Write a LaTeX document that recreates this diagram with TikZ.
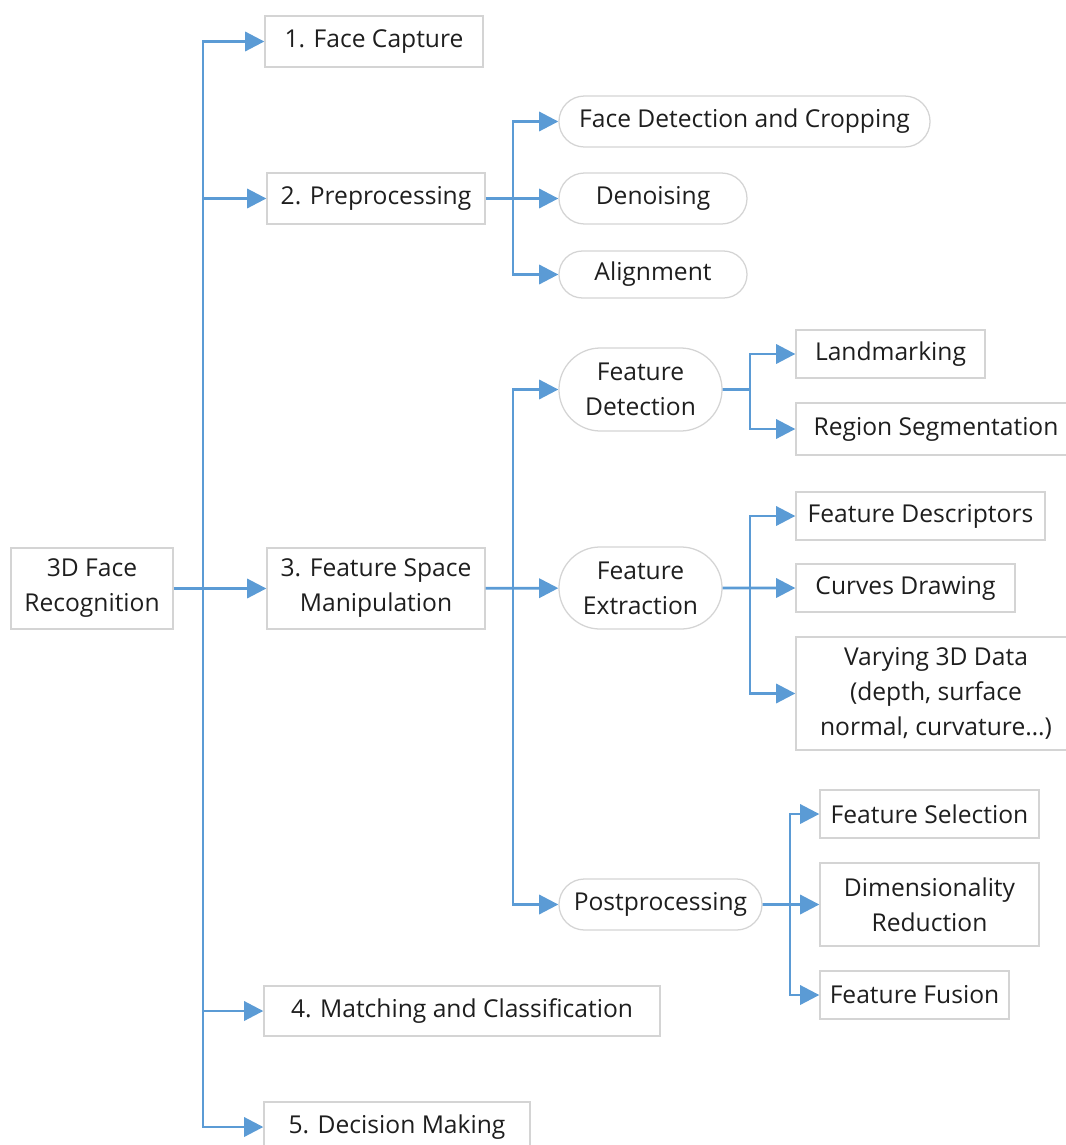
\documentclass[tikz,border=0pt]{standalone}
\usepackage{fontspec}
\setmainfont{Open Sans}
\usepackage{tikz}
\usetikzlibrary{shapes,arrows.meta}

\definecolor{flowblue}{HTML}{5B9BD5}
\definecolor{boxgray}{HTML}{D4D4D4}
\definecolor{textgray}{HTML}{1E1E1E}

\begin{document}
\begin{tikzpicture}
		[
		x = 0.025cm, y = -0.025cm,
		every node/.style = {text = textgray, font = \fontsize{17.5}{24.9}\selectfont, align = center, inner sep = 0pt},
		sqbox/.style = {draw = boxgray, line width = 0.9pt, rectangle, minimum height = 1.275cm},
		rdbox/.style = {draw = boxgray, line width = 0.9pt, rounded rectangle, minimum height = 1.275cm},
		flow/.style = {draw = flowblue, line width = 2pt, -{Triangle[length = 0.48cm, width = 0.48cm]}}
		]
		
		\useasboundingbox (0,0) rectangle (1066,1145);
		
		% level 0 and 1
		\node [sqbox, minimum width = 4.05cm, minimum height = 2.025cm] (root) at (92,588.5) {3D Face\\Recognition};
		\node [sqbox, minimum width = 5.45cm] (capture) at (374,41.5) {1. Face Capture};
		\node [sqbox, minimum width = 5.45cm] (prep) at (376,198.5) {2. Preprocessing};
		\node [sqbox, minimum width = 5.45cm, minimum height = 2.025cm] (fsm) at (376,588.5) {3. Feature Space\\Manipulation};
		\node [sqbox, minimum width = 9.9cm, minimum height = 1.25cm] (match) at (462,1011) {4. Matching and Classification};
		\node [sqbox, minimum width = 6.65cm, minimum height = 1.25cm] (decide) at (397,1127) {5. Decision Making};
		
		% preprocessing
		\node [rdbox, minimum width = 9.275cm] (crop) at (744.5,121.5) {Face Detection and Cropping};
		\node [rdbox, minimum width = 4.7cm] (denoise) at (653,198.5) {Denoising};
		\node [rdbox, minimum width = 4.7cm, minimum height = 1.175cm] (align) at (653,274.5) {Alignment};
		
		% feature space manipulation
		\node [rdbox, minimum width = 4.075cm, minimum height = 2.075cm] (fdetect) at (640.5,389.5) {Feature\\Detection};
		\node [rdbox, minimum width = 4.075cm, minimum height = 2.05cm] (fextract) at (640.5,588) {Feature\\Extraction};
		\node [rdbox, minimum width = 5.075cm] (post) at (660.5,904.5) {Postprocessing};
		
		% detection
		\node [sqbox, minimum width = 4.725cm, minimum height = 1.2cm] (landmark) at (890.5,354) {Landmarking};
		\node [sqbox, minimum width = 7cm, minimum height = 1.3cm] (region) at (936,429) {Region Segmentation};
		
		% extraction
		\node [sqbox, minimum width = 6.225cm, minimum height = 1.2cm] (descr) at (920.5,516) {Feature Descriptors};
		\node [sqbox, minimum width = 5.475cm, minimum height = 1.2cm] (curves) at (905.5,588) {Curves Drawing};
		\node [sqbox, minimum width = 7cm, minimum height = 2.825cm] (vary) at (936,693.5) {Varying 3D Data\\(depth, surface\\normal, curvature…)};
		
		% postprocessing
		\node [sqbox, minimum width = 5.475cm, minimum height = 1.2cm] (select) at (929.5,814) {Feature Selection};
		\node [sqbox, minimum width = 5.475cm, minimum height = 2.075cm] (dimred) at (929.5,904.5) {Dimensionality\\Reduction};
		\node [sqbox, minimum width = 4.725cm, minimum height = 1.2cm] (fusion) at (914.5,995) {Feature Fusion};
		
		% junctions
		\coordinate (j0) at (203,588.5);
		\coordinate (j1) at (513,198.5);
		\coordinate (j2) at (513,588.5);
		\coordinate (j3) at (750,389.5);
		\coordinate (j4) at (750,588);
		\coordinate (j5) at (790,904.5);
		
		\draw [flow] (root) -- (fsm);
		\draw [flow] (j0) |- (capture);
		\draw [flow] (j0) |- (prep);
		\draw [flow] (j0) |- (match);
		\draw [flow] (j0) |- (decide);
		
		\draw [flow] (prep) -- (denoise);
		\draw [flow] (j1) |- (crop);
		\draw [flow] (j1) |- (align);
		
		\draw [flow] (fsm) -- (fextract);
		\draw [flow] (j2) |- (fdetect);
		\draw [flow] (j2) |- (post);
		
		\draw [draw = flowblue, line width = 2pt] (fdetect) -- (j3);
		\draw [flow] (j3) |- (landmark);
		\draw [flow] (j3) |- (region);
		
		\draw [flow] (fextract) -- (curves);
		\draw [flow] (j4) |- (descr);
		\draw [flow] (j4) |- (vary);
		
		\draw [flow] (post) -- (dimred);
		\draw [flow] (j5) |- (select);
		\draw [flow] (j5) |- (fusion);
		
		\end{tikzpicture}
\end{document}
